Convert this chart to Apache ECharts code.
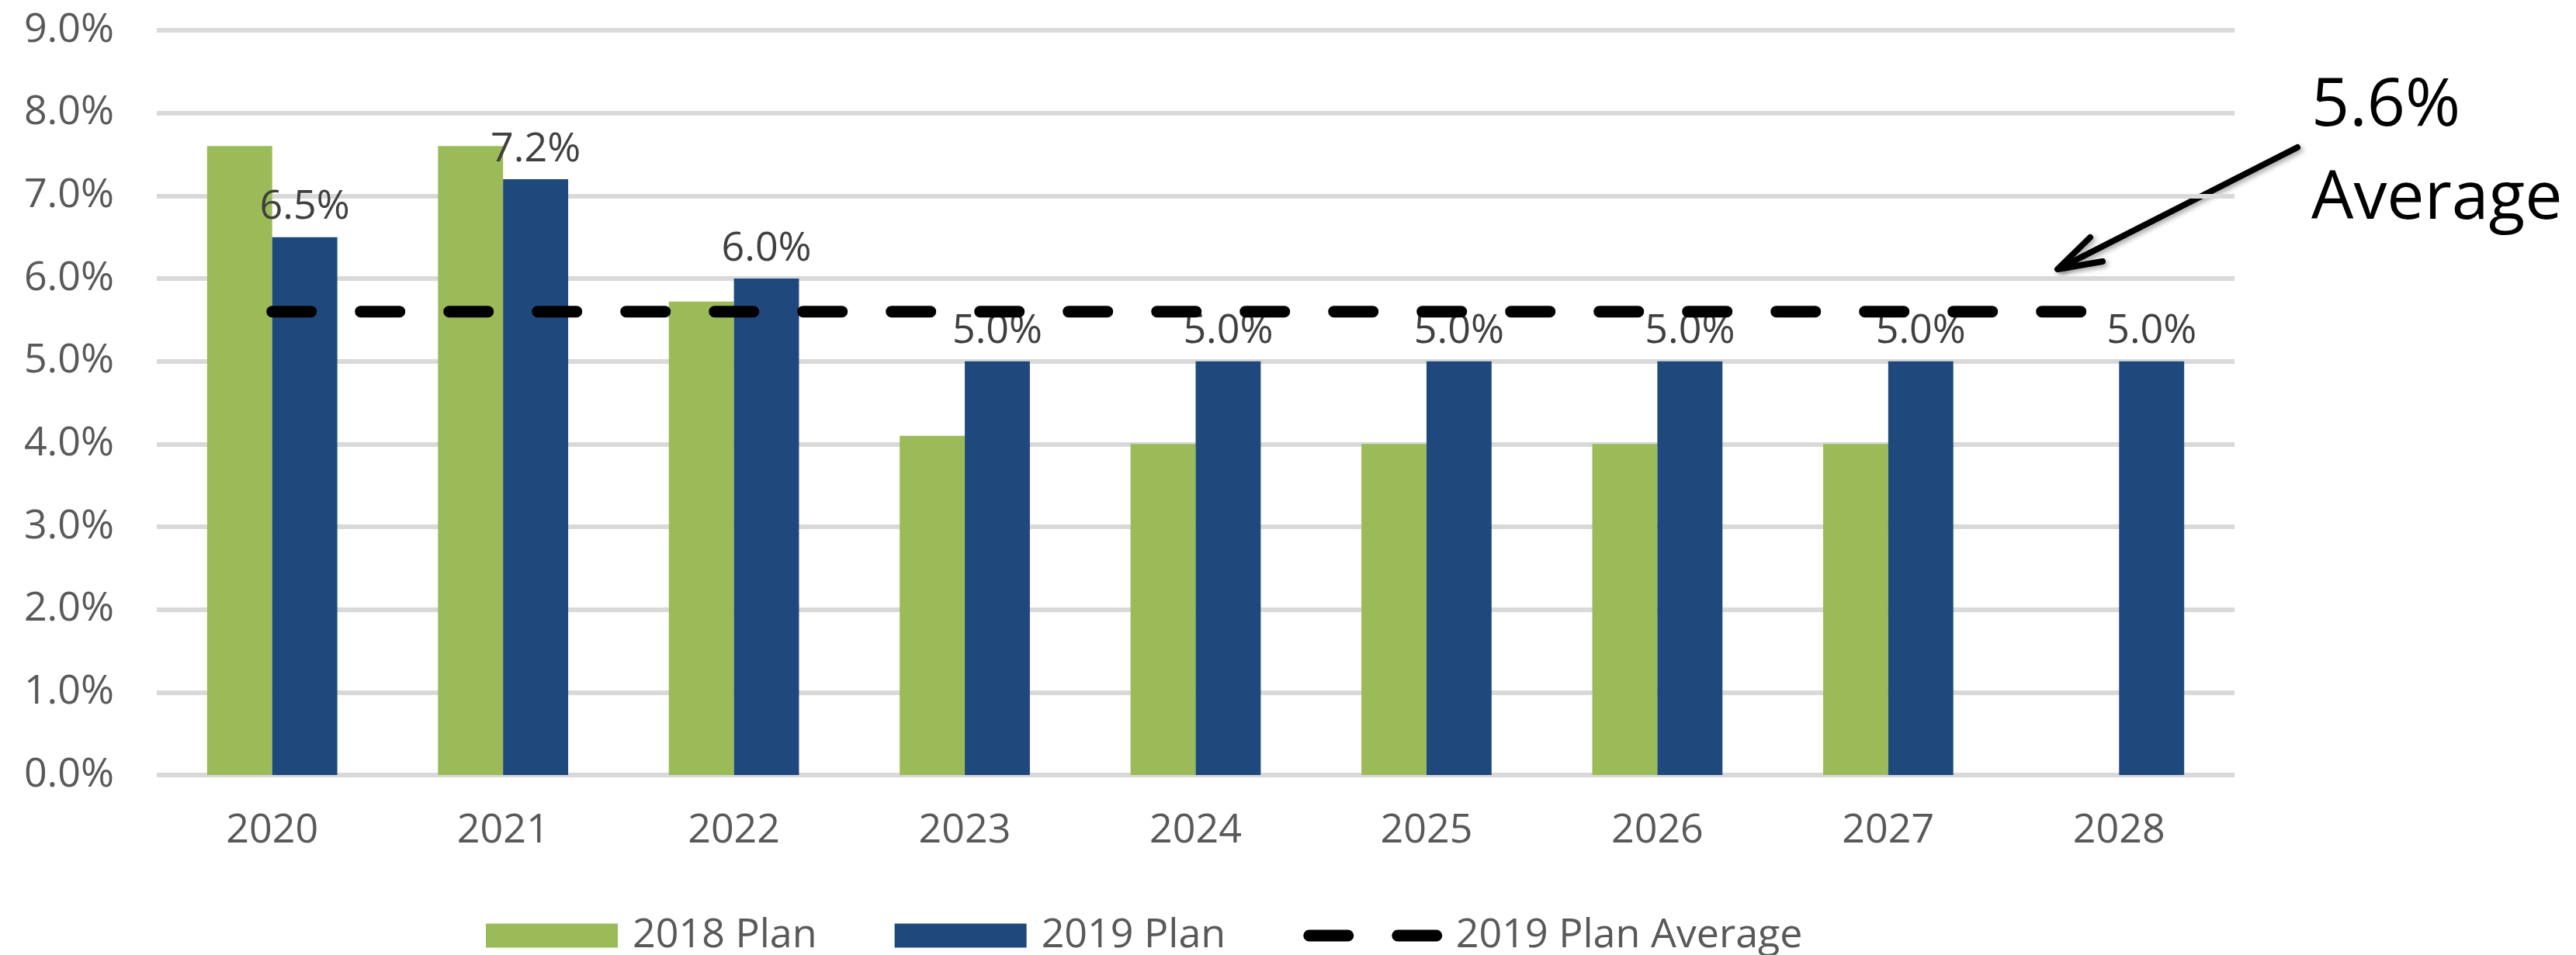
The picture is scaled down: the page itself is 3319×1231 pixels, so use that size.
<!DOCTYPE html>
<html>
<head>
<meta charset="utf-8">
<script src="https://cdn.jsdelivr.net/npm/echarts@6/dist/echarts.min.js"></script>
<style>
  html, body { margin: 0; padding: 0; background: #ffffff; }
  #chart { width: 3319px; height: 1231px; }
</style>
</head>
<body>
<div id="chart"></div>
<script>
// data (percent)
const years = ['2020', '2021', '2022', '2023', '2024', '2025', '2026', '2027', '2028']
const plan2018 = [7.6, 7.6, 5.72, 4.1, 4.0, 4.0, 4.0, 4.0, null]
const plan2019 = [6.5, 7.2, 6.0, 5.0, 5.0, 5.0, 5.0, 5.0, 5.0]
const planAverage = [5.6, 5.6, 5.6, 5.6, 5.6, 5.6, 5.6, 5.6, 5.6]
const yTicks = [0, 1, 2, 3, 4, 5, 6, 7, 8, 9]

const FONT = "'Open Sans', 'Liberation Sans', sans-serif"
const GREY = '#595959'

const chart = echarts.init(document.getElementById('chart'))

const option = {
  backgroundColor: '#ffffff',
  animation: false,
  grid: {
    left: 202,
    right: 440,
    top: 39,
    bottom: 232
  },
  legend: {
    left: 626,
    top: 1180,
    padding: 0,
    itemWidth: 170,
    itemHeight: 31,
    itemGap: 100,
    lineStyle: {
      width: 15
    },
    textStyle: {
      fontFamily: FONT,
      fontSize: 52,
      color: GREY,
      padding: [0, 0, 0, 14]
    },
    data: [
      { name: '2018 Plan', icon: 'rect' },
      { name: '2019 Plan', icon: 'rect' },
      { name: '2019 Plan Average', itemStyle: { opacity: 0 } }
    ]
  },
  xAxis: {
    type: 'category',
    data: years,
    axisLine: { show: false },
    axisTick: { show: false },
    axisLabel: {
      fontFamily: FONT,
      fontSize: 52,
      color: GREY,
      margin: 46
    }
  },
  yAxis: {
    type: 'value',
    min: yTicks[0],
    max: yTicks[yTicks.length - 1],
    interval: 1,
    axisLine: { show: false },
    axisTick: { show: false },
    axisLabel: {
      fontFamily: FONT,
      fontSize: 52,
      color: GREY,
      margin: 55,
      formatter: (v) => v.toFixed(1) + '%'
    },
    splitLine: {
      lineStyle: { color: '#d9d9d9', width: 6 }
    }
  },
  series: [
    {
      name: '2018 Plan',
      type: 'bar',
      data: plan2018,
      barWidth: '28.2%',
      barGap: '0%',
      itemStyle: { color: '#9bbb59' }
    },
    {
      name: '2019 Plan',
      type: 'bar',
      data: plan2019,
      barWidth: '28.2%',
      barGap: '0%',
      itemStyle: { color: '#1f497d' },
      label: {
        show: true,
        position: 'top',
        distance: 12,
        fontFamily: FONT,
        fontSize: 52,
        color: '#404040',
        formatter: (p) => p.value.toFixed(1) + '%'
      }
    },
    {
      name: '2019 Plan Average',
      type: 'line',
      data: planAverage,
      symbol: 'none',
      z: 5,
      itemStyle: { color: '#000000' },
      lineStyle: {
        color: '#000000',
        width: 15,
        type: [50, 64],
        cap: 'round'
      }
    }
  ],
  graphic: [
    {
      type: 'text',
      left: 2978,
      top: 77,
      style: {
        text: '5.6%\nAverage',
        fontFamily: FONT,
        fontSize: 86,
        lineHeight: 120,
        fill: '#000000'
      }
    },
    {
      type: 'group',
      children: [
        {
          type: 'line',
          shape: { x1: 2960, y1: 190, x2: 2655, y2: 345 },
          style: {
            stroke: '#000000',
            lineWidth: 8,
            lineCap: 'round',
            shadowBlur: 6,
            shadowColor: 'rgba(0,0,0,0.35)',
            shadowOffsetX: 3,
            shadowOffsetY: 3
          }
        },
        {
          type: 'polyline',
          shape: { points: [[2693, 306], [2651, 347], [2709, 337]] },
          style: {
            stroke: '#000000',
            fill: null,
            lineWidth: 8,
            lineCap: 'round',
            lineJoin: 'round',
            shadowBlur: 6,
            shadowColor: 'rgba(0,0,0,0.35)',
            shadowOffsetX: 3,
            shadowOffsetY: 3
          }
        }
      ]
    }
  ]
}

chart.setOption(option)

window.addEventListener('resize', () => {
  chart.resize()
})
</script>
</body>
</html>
